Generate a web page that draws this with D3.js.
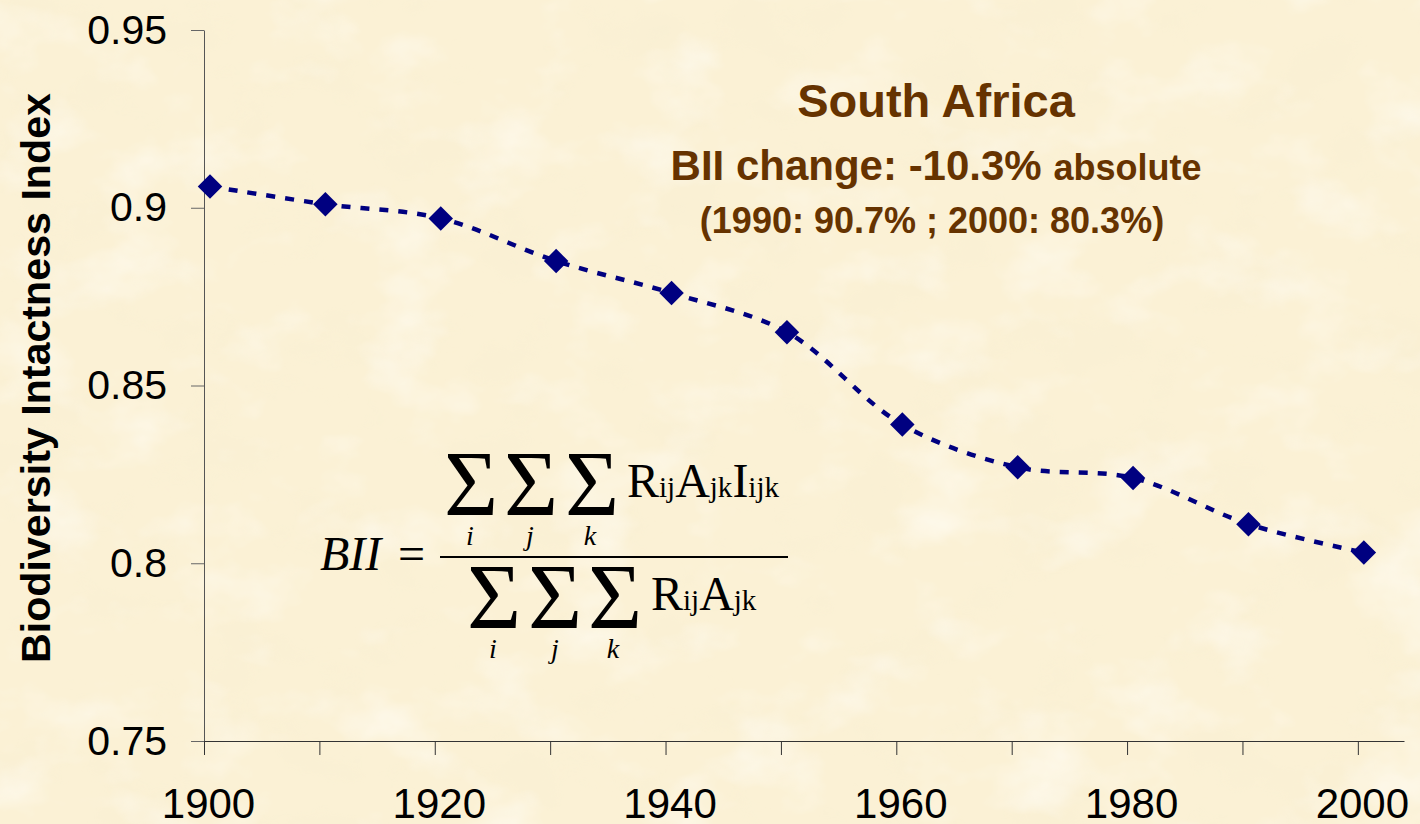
<!DOCTYPE html>
<html>
<head>
<meta charset="utf-8">
<script src="https://cdn.jsdelivr.net/npm/d3@7"></script>
<style>
  html, body { margin: 0; padding: 0; background: #fbf1d5; }
  svg { display: block; }
</style>
</head>
<body>
<div id="chart"></div>
<script>
// data
var years = [1900, 1910, 1920, 1930, 1940, 1950, 1960, 1970, 1980, 1990, 2000];
var bii = [0.906, 0.901, 0.897, 0.885, 0.876, 0.865, 0.839, 0.827, 0.824, 0.811, 0.803];
var yTicks = [0.75, 0.8, 0.85, 0.9, 0.95];
var yTickLabels = ["0.75", "0.8", "0.85", "0.9", "0.95"];
var xTicks = [1900, 1910, 1920, 1930, 1940, 1950, 1960, 1970, 1980, 1990, 2000];
var xTickLabels = ["1900", "", "1920", "", "1940", "", "1960", "", "1980", "", "2000"];

var width = 1420,
height = 824,
markOffset = 6;  // Excel draws the points a little right of the ticks

var svg = d3.select("#chart").append("svg")
.attr("width", width)
.attr("height", height);

// parchment background
var defs = svg.append("defs");
var f = defs.append("filter").attr("id", "paper")
.attr("x", 0).attr("y", 0).attr("width", "100%").attr("height", "100%");
f.append("feTurbulence").attr("type", "fractalNoise")
.attr("baseFrequency", "0.011 0.016").attr("numOctaves", 4).attr("seed", 7).attr("result", "n");
f.append("feColorMatrix").attr("in", "n").attr("type", "matrix")
.attr("values", "0 0 0 0 0.93  0 0 0 0 0.85  0 0 0 0 0.64  1.1 0 0 0 -0.54")
.attr("result", "dark");
f.append("feColorMatrix").attr("in", "n").attr("type", "matrix")
.attr("values", "0 0 0 0 1  0 0 0 0 0.985  0 0 0 0 0.94  0 -1.4 0 0 0.68")
.attr("result", "light");
f.append("feMerge").selectAll("feMergeNode")
.data(["dark", "light"]).enter().append("feMergeNode").attr("in", function(d){return d;});

svg.append("rect").attr("width", width).attr("height", height).attr("fill", "#fbf1d5");
svg.append("rect").attr("width", width).attr("height", height).attr("filter", "url(#paper)");

var x = d3.scaleLinear().domain([1900, 2004]).range([204, 1404]);
var y = d3.scaleLinear().domain([0.75, 0.95]).range([741, 30]);

// y axis
var yAxis = svg.append("g")
.attr("transform", "translate(204,0)")
.call(d3.axisLeft(y).tickValues(yTicks)
	.tickFormat(function(d, i){return yTickLabels[i];})
	.tickSizeInner(13).tickSizeOuter(0).tickPadding(24));
yAxis.select(".domain").attr("stroke", "#555");
yAxis.selectAll(".tick line").attr("stroke", "#666");
yAxis.selectAll("text")
.attr("font-family", "Liberation Sans, Arial, sans-serif")
.attr("font-size", 41)
.attr("fill", "#000");

// x axis
var xAxis = svg.append("g")
.attr("transform", "translate(0,741)")
.call(d3.axisBottom(x).tickValues(xTicks)
	.tickFormat(function(d, i){return xTickLabels[i];})
	.tickSizeInner(14).tickSizeOuter(0).tickPadding(33));
xAxis.select(".domain").attr("stroke", "#333");
xAxis.selectAll(".tick line").attr("stroke", "#333");
xAxis.selectAll("text")
.attr("dx", 4)
.attr("font-family", "Liberation Sans, Arial, sans-serif")
.attr("font-size", 42)
.attr("fill", "#000");

// axis title
svg.append("text")
.attr("transform", "translate(50,378) rotate(-90)")
.attr("text-anchor", "middle")
.attr("font-family", "Liberation Sans, Arial, sans-serif")
.attr("font-weight", "bold")
.attr("font-size", 41)
.attr("textLength", 570)
.attr("lengthAdjust", "spacingAndGlyphs")
.text("Biodiversity Intactness Index");

// series
var pts = years.map(function(yr, i){return {year: yr, v: bii[i]};});

var line = d3.line()
.x(function(d){return x(d.year) + markOffset;})
.y(function(d){return y(d.v);})
.curve(d3.curveCatmullRom.alpha(0.5));

svg.append("path")
.datum(pts)
.attr("d", line)
.attr("fill", "none")
.attr("stroke", "#000080")
.attr("stroke-width", 4.5)
.attr("stroke-dasharray", "9,10");

svg.selectAll(".pt").data(pts).enter().append("path")
.attr("class", "pt")
.attr("d", d3.symbol().type(d3.symbolSquare).size(300))
.attr("transform", function(d){
	return "translate(" + (x(d.year) + markOffset) + "," + y(d.v) + ") rotate(45)";
})
.attr("fill", "#000080");

// titles
var brown = "#663300";
var tg = svg.append("g")
.attr("font-family", "Liberation Sans, Arial, sans-serif")
.attr("font-weight", "bold")
.attr("fill", brown)
.attr("text-anchor", "middle");
tg.append("text").attr("x", 936).attr("y", 117).attr("font-size", 47).text("South Africa");
var t2 = tg.append("text").attr("x", 936).attr("y", 180).attr("font-size", 42);
t2.append("tspan").text("BII change: -10.3% ");
t2.append("tspan").attr("font-size", 36).text("absolute");
tg.append("text").attr("x", 932).attr("y", 233).attr("font-size", 36).text("(1990: 90.7% ; 2000: 80.3%)");

// formula
var fg = svg.append("g")
.attr("font-family", "Liberation Serif, Times New Roman, serif")
.attr("fill", "#000");

fg.append("text").attr("x", 320).attr("y", 570).attr("font-size", 48)
.attr("font-style", "italic").text("BII");
fg.append("text").attr("x", 398).attr("y", 570).attr("font-size", 48).text("=");
fg.append("line").attr("x1", 440).attr("x2", 788).attr("y1", 557).attr("y2", 557)
.attr("stroke", "#000").attr("stroke-width", 2.2);

var sumIdx = ["i", "j", "k"];
var numSum = [471, 531, 592],
numLim = [470, 530, 590],
denSum = [494, 555, 615],
denLim = [493, 555, 613];

function sums(cx, base, lx, lbase) {
	fg.selectAll(null).data(cx).enter().append("text")
	.attr("x", function(d){return d;}).attr("y", base)
	.attr("text-anchor", "middle").attr("font-size", 93).text("\u03A3");
	fg.selectAll(null).data(sumIdx).enter().append("text")
	.attr("x", function(d, i){return lx[i];}).attr("y", lbase)
	.attr("text-anchor", "middle").attr("font-size", 28).attr("font-style", "italic")
	.text(function(d){return d;});
}
sums(numSum, 515, numLim, 545);
sums(denSum, 628, denLim, 658);

function product(x0, base, parts) {
	var t = fg.append("text").attr("x", x0).attr("y", base);
	parts.forEach(function(p, i){
		t.append("tspan").attr("font-size", i % 2 ? 29 : 48).text(p);
	});
}
product(627, 497, ["R", "ij", "A", "jk", "I", "ijk"]);
product(651, 610, ["R", "ij", "A", "jk"]);
</script>
</body>
</html>
